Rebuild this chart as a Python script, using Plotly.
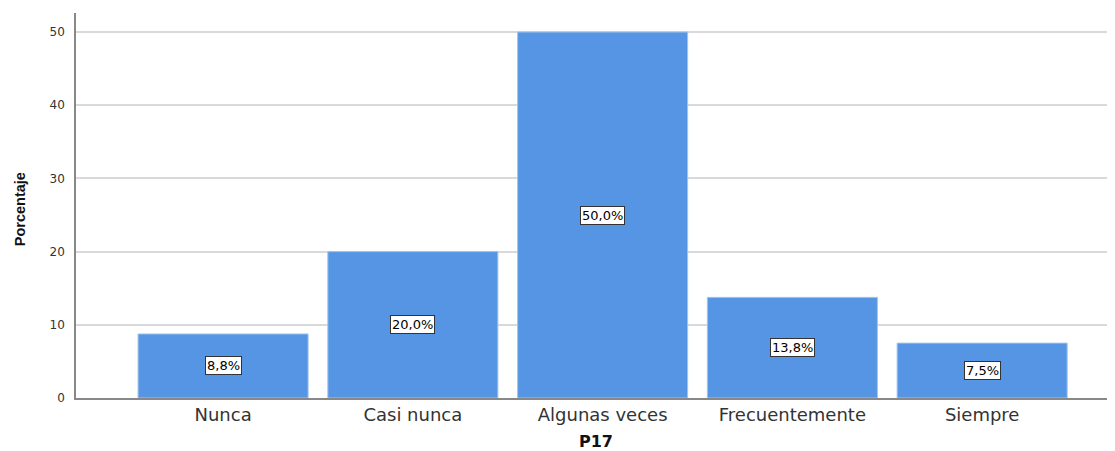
import plotly.graph_objects as go

categories = ["Nunca", "Casi nunca", "Algunas veces", "Frecuentemente", "Siempre"]
values = [8.75, 20.0, 50.0, 13.75, 7.5]
labels = ["8,8%", "20,0%", "50,0%", "13,8%", "7,5%"]
y_ticks = [0, 10, 20, 30, 40, 50]

fig = go.Figure()
fig.add_trace(go.Bar(
    x=list(range(len(categories))), y=values,
    marker=dict(color="rgb(85,149,228)", line=dict(color="rgb(160,195,240)", width=1)),
    width=0.896, hoverinfo="skip",
))

for i, (v, lab) in enumerate(zip(values, labels)):
    fig.add_annotation(
        x=i, y=v / 2, text=lab, showarrow=False,
        font=dict(family="DejaVu Sans", size=13, color="black"),
        bgcolor="white", bordercolor="#333333", borderwidth=1, borderpad=1,
    )

# axis titles as annotations
fig.add_annotation(
    xref="paper", yref="paper", x=0.5, y=-0.114, yanchor="middle", xanchor="center",
    text="<b>P17</b>", showarrow=False,
    font=dict(family="DejaVu Sans", size=16, color="#111"),
)
fig.add_annotation(
    xref="paper", yref="paper", x=-0.054, y=0.49, xanchor="center", yanchor="middle",
    text="<b>Porcentaje</b>", showarrow=False, textangle=-90,
    font=dict(family="Liberation Sans", size=14.5, color="#111"),
)

fig.update_layout(
    width=1107, height=443,
    margin=dict(l=68, r=0, t=5, b=53),
    paper_bgcolor="white", plot_bgcolor="white",
    showlegend=False,
    font=dict(family="DejaVu Sans", color="#222"),
)
fig.update_xaxes(
    range=[-0.775, 4.7], automargin=False,
    tickmode="array", tickvals=list(range(len(categories))), ticktext=categories,
    tickfont=dict(family="DejaVu Sans", size=18, color="#333"),
    showline=True, linecolor="#888", linewidth=1.5,
    showgrid=False, ticks="", zeroline=False,
)
fig.update_yaxes(
    range=[0, 52.6], automargin=False,
    tickmode="array", tickvals=y_ticks,
    tickfont=dict(family="DejaVu Sans", size=12, color="#333"),
    showline=True, linecolor="#888", linewidth=1.5,
    showgrid=True, gridcolor="#d9d9d9", gridwidth=1.5,
    ticks="outside", ticklen=7, tickcolor="rgba(0,0,0,0)",
    zeroline=False,
)

fig.write_html("out.html")
